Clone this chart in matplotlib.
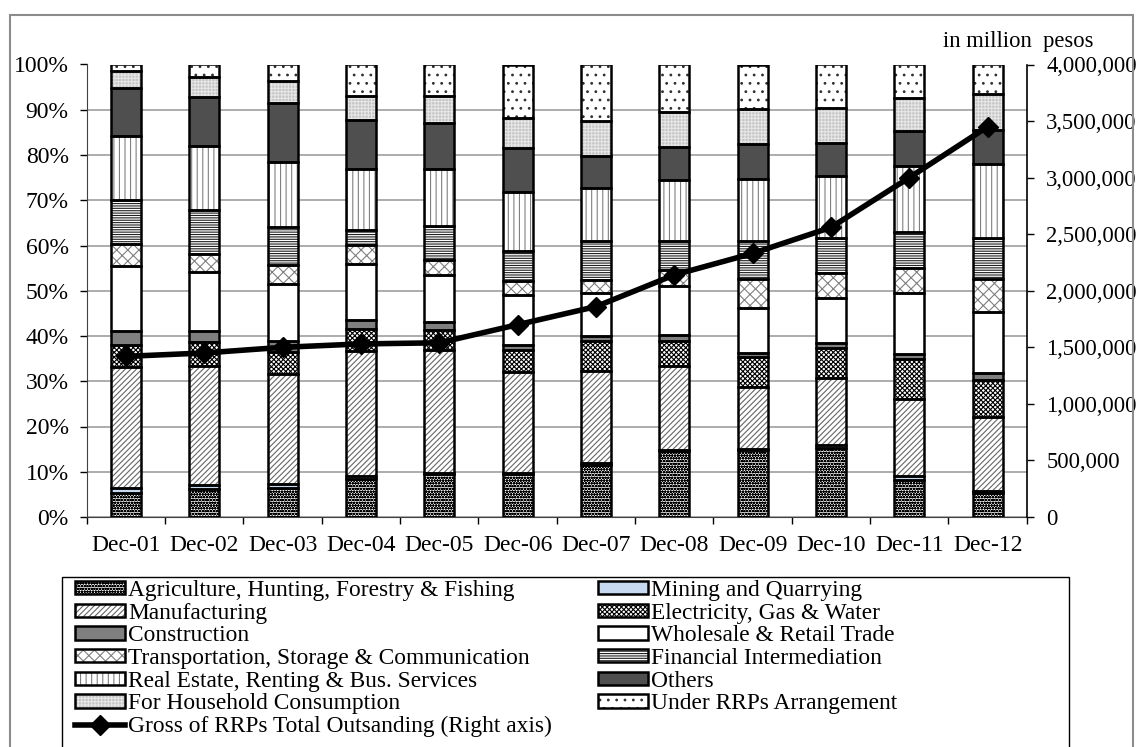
import matplotlib.pyplot as plt
from matplotlib.patches import Patch, Rectangle
from matplotlib.legend_handler import HandlerTuple
from matplotlib.ticker import FuncFormatter

plt.rcParams['font.family'] = ['Liberation Serif', 'DejaVu Serif']
plt.rcParams['hatch.linewidth'] = 0.8

years = ['Dec-01', 'Dec-02', 'Dec-03', 'Dec-04', 'Dec-05', 'Dec-06',
         'Dec-07', 'Dec-08', 'Dec-09', 'Dec-10', 'Dec-11', 'Dec-12']

# share of RRPs by sector (%), bottom to top
agriculture    = [5.3, 6.1, 6.3, 8.3, 9.4, 9.4, 11.6, 14.6, 14.7, 15.2, 8.2, 5.4]
mining         = [1.0, 1.0, 1.0, 0.8, 0.4, 0.4, 0.3, 0.3, 0.3, 0.7, 0.9, 0.4]
manufacturing  = [26.8, 26.3, 24.3, 27.5, 27.0, 22.2, 20.3, 18.5, 13.8, 14.9, 17.0, 16.2]
electricity    = [4.9, 5.2, 4.8, 4.9, 4.6, 4.9, 6.6, 5.4, 6.5, 6.5, 8.9, 8.3]
construction   = [3.0, 2.4, 2.4, 2.1, 1.6, 1.1, 1.2, 1.5, 0.9, 1.1, 1.1, 1.6]
wholesale      = [14.4, 13.1, 12.7, 12.4, 10.5, 11.1, 9.6, 10.8, 10.0, 10.0, 13.5, 13.5]
transportation = [4.9, 4.0, 4.3, 4.2, 3.4, 3.0, 2.8, 3.5, 6.4, 5.5, 5.4, 7.2]
financial      = [9.7, 9.7, 8.2, 3.3, 7.3, 6.6, 8.5, 6.3, 8.3, 7.8, 7.9, 9.1]
real_estate    = [14.3, 14.1, 14.4, 13.3, 12.8, 13.1, 11.7, 13.5, 13.7, 13.6, 14.6, 16.3]
others         = [10.5, 11.0, 13.1, 11.0, 10.1, 9.8, 7.1, 7.4, 7.8, 7.4, 7.7, 7.6]
household      = [3.7, 4.4, 4.8, 5.3, 6.0, 6.6, 7.8, 7.7, 7.8, 7.7, 7.4, 7.8]
under_rrp      = [1.5, 2.7, 3.7, 6.9, 6.9, 11.8, 12.5, 10.5, 9.8, 9.6, 7.4, 6.6]

# gross RRPs total outstanding, in million pesos
gross = [1420000, 1450000, 1500000, 1530000, 1540000, 1700000,
         1860000, 2140000, 2330000, 2560000, 3000000, 3450000]

sectors = [
    ('Agriculture, Hunting, Forestry & Fishing', agriculture, 'white', 'oooooo', 'black'),
    ('Mining and Quarrying', mining, '#c6d9f1', '', 'black'),
    ('Manufacturing', manufacturing, 'white', '//////', '#666666'),
    ('Electricity, Gas & Water', electricity, 'white', 'xxxxxxx', 'black'),
    ('Construction', construction, '#7f7f7f', '', 'black'),
    ('Wholesale & Retail Trade', wholesale, 'white', '', 'black'),
    ('Transportation, Storage & Communication', transportation, 'white', 'xxx', '#808080'),
    ('Financial Intermediation', financial, 'white', '-------', '#202020'),
    ('Real Estate, Renting & Bus. Services', real_estate, 'white', '|||', '#808080'),
    ('Others', others, '#4f4f4f', '', 'black'),
    ('For Household Consumption', household, '#c4c4c4', '+++++', '#e6e6e6'),
    ('Under RRPs Arrangement', under_rrp, 'white', '..', '#303030'),
]

W, H = 1138, 747
fig = plt.figure(figsize=(W / 100, H / 100), dpi=100)
# outer chart frame and legend box
fig.patches.append(Rectangle((10 / W, -0.01), 1123 / W, 1 - 15 / H + 0.01,
                             transform=fig.transFigure, fill=False,
                             edgecolor='#8c8c8c', linewidth=1.5))
fig.patches.append(Rectangle((62 / W, -0.01), 1007 / W, 1 - 577 / H + 0.01,
                             transform=fig.transFigure, fill=False,
                             edgecolor='black', linewidth=1.0))

ax = fig.add_axes([86.8 / W, 1 - 517 / H, 940 / W, 452.5 / H])
x = list(range(len(years)))
bw = 0.38
bottom = [0.0] * len(years)
handles = {}
for name, vals, face, hatch, hcol in sectors:
    ax.bar(x, vals, bw, bottom=bottom, color=face, hatch=hatch,
           edgecolor=hcol, linewidth=0, zorder=2)
    ax.bar(x, vals, bw, bottom=bottom, fill=False, edgecolor='black',
           linewidth=1.8, zorder=3)
    handles[name] = (Patch(facecolor=face, hatch=hatch, edgecolor=hcol, linewidth=0),
                     Patch(fill=False, edgecolor='black', linewidth=1.8))
    bottom = [b + v for b, v in zip(bottom, vals)]

ax.set_xlim(-0.5, len(years) - 0.5)
ax.set_ylim(0, 100)
ax.set_yticks(range(0, 101, 10))
ax.yaxis.set_major_formatter(FuncFormatter(lambda v, p: f'{v:.0f}%'))
ax.set_xticks(x)
ax.set_xticklabels(years)
ax.set_xticks([i + 0.5 for i in range(-1, len(years))], minor=True)
ax.tick_params(axis='x', which='major', length=0, pad=13, labelsize=17)
ax.tick_params(axis='x', which='minor', length=5, width=1, direction='out')
ax.tick_params(axis='y', length=5, width=1, pad=8, labelsize=17)
ax.grid(axis='y', color='#a6a6a6', linewidth=1.3)
ax.set_axisbelow(True)
ax.spines['top'].set_visible(False)
ax.spines['right'].set_visible(False)
ax.spines['left'].set_color('#404040')
ax.spines['bottom'].set_color('#404040')

ax2 = ax.twinx()
line, = ax2.plot(x, gross, color='black', linewidth=4, marker='D',
                 markersize=10, zorder=5)
ax2.set_ylim(0, 4000000)
ax2.set_yticks(range(0, 4000001, 500000))
ax2.yaxis.set_major_formatter(FuncFormatter(lambda v, p: f'{v:,.0f}'))
ax2.tick_params(axis='y', length=5, width=1, pad=9, labelsize=16.3)
ax2.spines['top'].set_visible(False)
ax2.spines['left'].set_visible(False)
ax2.spines['bottom'].set_visible(False)
ax2.spines['right'].set_linewidth(1.2)

fig.text(943 / W, 1 - 42 / H, 'in million  pesos', fontsize=16.3,
         ha='left', va='center')

# legend: two columns, read row by row
col1 = [0, 2, 4, 6, 8, 10]
col2 = [1, 3, 5, 7, 9, 11]
leg_names = [sectors[i][0] for i in col1] + ['Gross of RRPs Total Outsanding (Right axis)'] \
    + [sectors[i][0] for i in col2]
leg_handles = [handles[sectors[i][0]] for i in col1] + [line] \
    + [handles[sectors[i][0]] for i in col2]
fig.legend(leg_handles, leg_names, ncol=2, loc='upper left',
           bbox_to_anchor=(75 / W, 1 - 580 / H), fontsize=16.8,
           handler_map={tuple: HandlerTuple(ndivide=1)},
           handlelength=2.15, handleheight=0.5, handletextpad=0.13,
           labelspacing=0.07, columnspacing=1.95, borderpad=0,
           borderaxespad=0, frameon=False)

fig.savefig('out.png', dpi=100)
